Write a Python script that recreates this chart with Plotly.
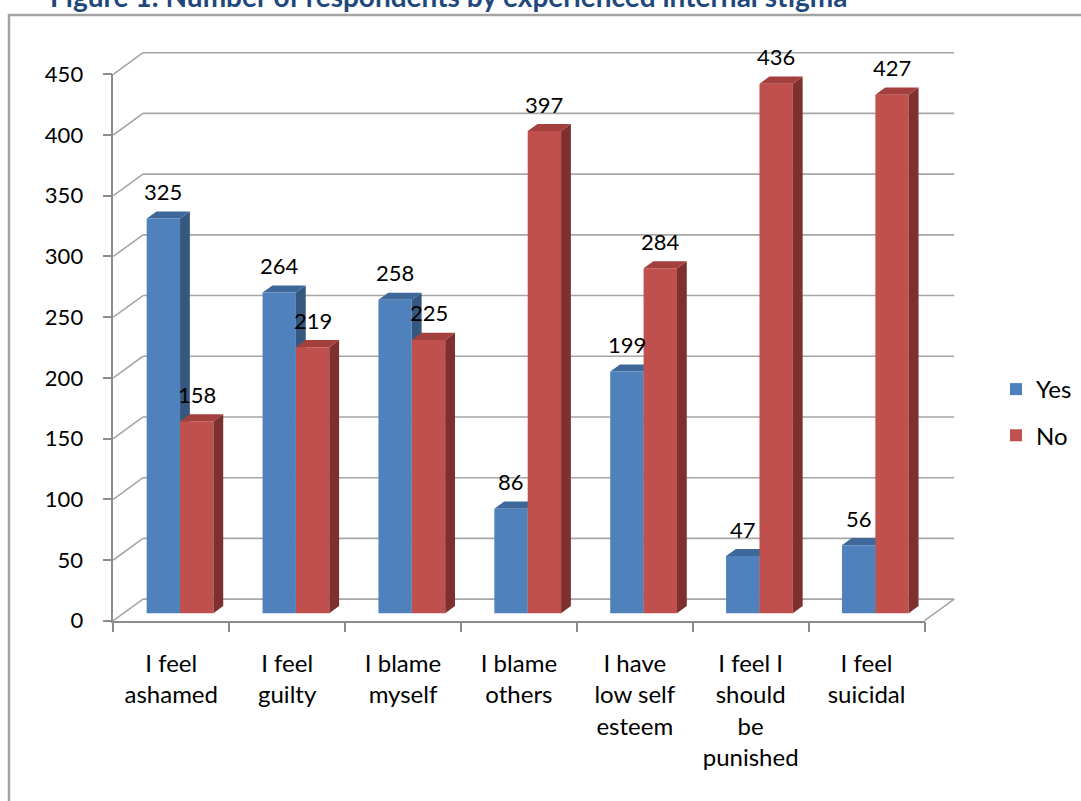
import plotly.graph_objects as go

# ---------------- data ----------------
categories = ["I feel<br>ashamed", "I feel<br>guilty", "I blame<br>myself", "I blame<br>others",
              "I have<br>low self<br>esteem", "I feel I<br>should<br>be<br>punished", "I feel<br>suicidal"]
yes_values = [325, 264, 258, 86, 199, 47, 56]
no_values = [158, 219, 225, 397, 284, 436, 427]
y_ticks = [0, 50, 100, 150, 200, 250, 300, 350, 400, 450]
series_names = ["Yes", "No"]
title_text = "Figure 1: Number of respondents by experienced internal stigma"

# ---------------- geometry / style ----------------
W, H = 1081, 801
FRONT_L, FRONT_R = 113.3, 924.5      # front plane x extent (px)
FRONT_B, FRONT_T = 620.7, 74.3       # front plane y extent for 0..YMAX (px)
DEPTH_DX, DEPTH_DY = 29.7, 21.6      # full depth of the 3-D box (px)
YMAX = 450
N = len(categories)
CW = (FRONT_R - FRONT_L) / N
K = (FRONT_B - FRONT_T) / YMAX
DXU = DEPTH_DX / CW
DYU = DEPTH_DY / K
BAR_FRONT = 0.35      # bar front face position (fraction of depth)
BAR_DEPTH = 0.33      # bar depth (fraction of depth)
BAR_W = 0.288
OFFSETS = [-0.212, 0.076]
FRONT_COL = ["#4f81bd", "#c0504d"]
SIDE_COL = ["#36587f", "#7e302e"]
TOP_COL = ["#3f689a", "#a3403d"]
GRID = "#a6a6a6"
AXIS = "#8c8c8c"
FONT = "Lato"
FS = 22
FS_BIG = 24


def xdom(p0, p1):
    return [p0 / W, p1 / W]


def ydom(pb, pt):
    return [1 - pb / H, 1 - pt / H]


fig = go.Figure()

base = BAR_FRONT * DYU
ddx = BAR_DEPTH * DXU
ddy = BAR_DEPTH * DYU

series = [yes_values, no_values]
for s, (name, vals) in enumerate(zip(series_names, series)):
    fig.add_trace(go.Bar(
        x=categories, y=vals, base=base, offset=OFFSETS[s], width=BAR_W,
        name=name, legendgroup=name, marker=dict(color=FRONT_COL[s], line=dict(width=0)),
        xaxis="x3", yaxis="y3",
        hovertemplate="%{x}: %{y}<extra>" + name + "</extra>",
    ))

shapes = []
# frame
shapes.append(dict(type="rect", xref="paper", yref="paper", x0=9 / W, x1=1095 / W,
                   y0=1 - 15 / H, y1=-0.05, line=dict(color="#a3a3a3", width=2.5), layer="below"))

# back wall gridlines (box subplot)
for v in y_ticks:
    shapes.append(dict(type="line", xref="x2", yref="y2", x0=-0.5 + DXU, y0=v + DYU,
                       x1=N - 0.5 + DXU, y1=v + DYU, line=dict(color=GRID, width=1.6), layer="below"))
# left wall diagonals and floor edge (box subplot)
for v in y_ticks:
    shapes.append(dict(type="line", xref="x2", yref="y2", x0=-0.5, y0=v, x1=-0.5 + DXU, y1=v + DYU,
                       line=dict(color=GRID, width=1.6), layer="below"))
shapes.append(dict(type="line", xref="x2", yref="y2", x0=N - 0.5, y0=0, x1=N - 0.5 + DXU, y1=DYU,
                   line=dict(color=GRID, width=1.6), layer="below"))

# bar side and top faces
annotations = []
for s, vals in enumerate(series):
    layer = "between" if s == 0 else "above"
    for i, v in enumerate(vals):
        xl = i + OFFSETS[s]
        xr = xl + BAR_W
        t = base + v
        side = f"M{xr},{base} L{xr},{t} L{xr + ddx},{t + ddy} L{xr + ddx},{base + ddy} Z"
        top = f"M{xl},{t} L{xr},{t} L{xr + ddx},{t + ddy} L{xl + ddx},{t + ddy} Z"
        shapes.append(dict(type="path", path=side, xref="x3", yref="y3", fillcolor=SIDE_COL[s],
                           line=dict(width=0), layer=layer))
        shapes.append(dict(type="path", path=top, xref="x3", yref="y3", fillcolor=TOP_COL[s],
                           line=dict(width=0), layer=layer))
        annotations.append(dict(x=xl + BAR_W / 2, y=t, xref="x3", yref="y3", text=str(v),
                                showarrow=False, yshift=27, yanchor="middle",
                                font=dict(family=FONT, size=FS, color="#000000")))

# (cropped) title, as in the source image
annotations.append(dict(x=48 / W, y=1 - 15 / H, xref="paper", yref="paper", text="<b>" + title_text + "</b>",
                        showarrow=False, xanchor="left", yanchor="bottom",
                        font=dict(family=FONT, size=28, color="#1f497d")))

PX, PY = 0.1, 10
fig.update_layout(
    width=W, height=H,
    margin=dict(l=0, r=0, t=0, b=0, autoexpand=False),
    paper_bgcolor="white", plot_bgcolor="rgba(0,0,0,0)",
    font=dict(family=FONT, size=FS, color="#000000"),
    barmode="overlay",
    showlegend=True,
    legend=dict(x=996 / W, y=1 - 367 / H, xanchor="left", yanchor="top",
                font=dict(family=FONT, size=FS_BIG), traceorder="grouped", tracegroupgap=12,
                bgcolor="rgba(0,0,0,0)"),
    xaxis=dict(visible=False, anchor="y"),
    yaxis=dict(visible=False, anchor="x"),
    # box (back wall, left wall and floor)
    xaxis2=dict(domain=xdom(FRONT_L - PX * CW, FRONT_R + DEPTH_DX + PX * CW),
                range=[-0.5 - PX, N - 0.5 + DXU + PX], visible=False, anchor="y2", fixedrange=True),
    yaxis2=dict(domain=ydom(FRONT_B + PY * K, FRONT_T - DEPTH_DY - PY * K),
                range=[-PY, YMAX + DYU + PY], visible=False, anchor="x2", fixedrange=True),
    # front plane
    xaxis3=dict(domain=xdom(FRONT_L, FRONT_R), type="category", categoryorder="array",
                categoryarray=categories, range=[-0.5, N - 0.5], tickson="boundaries",
                ticks="outside", ticklen=10, tickwidth=1.5, tickcolor=AXIS,
                showline=True, linecolor=AXIS, linewidth=1.5, showgrid=False, zeroline=False,
                tickfont=dict(family=FONT, size=FS_BIG, color="#000000"), ticklabelstandoff=21,
                anchor="y3", fixedrange=True),
    yaxis3=dict(domain=ydom(FRONT_B, FRONT_T), range=[0, YMAX], tickmode="array", tickvals=y_ticks,
                ticks="outside", ticklen=9, tickwidth=1.5, tickcolor=AXIS,
                showline=True, linecolor=AXIS, linewidth=1.5, showgrid=False, zeroline=False,
                tickfont=dict(family=FONT, size=FS, color="#000000"), ticklabelstandoff=15,
                anchor="x3", fixedrange=True),
    shapes=shapes,
    annotations=annotations,
)

fig.write_html("out.html")
